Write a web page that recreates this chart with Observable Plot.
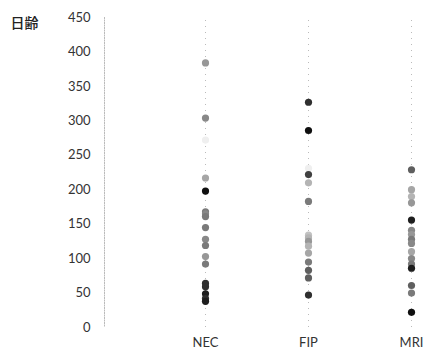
<!DOCTYPE html>
<html><head><meta charset="utf-8">
<script src="https://cdn.jsdelivr.net/npm/d3@7"></script>
<script src="https://cdn.jsdelivr.net/npm/@observablehq/plot@0.6"></script>
<style>body{margin:0;background:#fff;} svg{display:block;}</style>
</head><body><div id="chart"></div>
<script>
const categories = ["NEC", "FIP", "MRI"];
const necValues = [384, 304, 272, 217, 198, 168, 165, 161, 145, 128, 119, 103, 92, 64, 59, 49, 42, 38];
const necTones  = [0.5, 0.55, 0.12, 0.45, 0.95, 0.6, 0.55, 0.6, 0.6, 0.55, 0.6, 0.5, 0.6, 0.85, 0.85, 0.9, 0.85, 0.9];
const fipValues = [327, 286, 231, 222, 210, 183, 134, 130, 125, 118, 108, 95, 83, 72, 47];
const fipTones  = [0.85, 0.95, 0.12, 0.8, 0.4, 0.6, 0.35, 0.4, 0.5, 0.4, 0.45, 0.6, 0.7, 0.7, 0.85];
const mriValues = [229, 200, 190, 181, 156, 141, 135, 128, 122, 110, 100, 92, 86, 61, 50, 22];
const mriTones  = [0.7, 0.45, 0.4, 0.5, 0.9, 0.55, 0.5, 0.6, 0.55, 0.45, 0.55, 0.6, 0.9, 0.7, 0.6, 0.95];
const yTicks = [0, 50, 100, 150, 200, 250, 300, 350, 400, 450];
const yLabel = "日齢";

const series = [necValues, fipValues, mriValues];
const tones = [necTones, fipTones, mriTones];
const data = [];
categories.forEach((c, i) => series[i].forEach((v, j) => data.push({cat: c, value: v, tone: tones[i][j]})));

const chart = Plot.plot({
  width: 431,
  height: 354,
  marginLeft: 104,
  marginRight: 20,
  marginTop: 17,
  marginBottom: 27,
  style: {fontFamily: "Lato, 'Noto Sans CJK JP', sans-serif", fontSize: "13px", color: "#333"},
  x: {type: "point", domain: categories, range: [205, 411], padding: 0, label: null},
  y: {domain: [0, 450], label: null},
  marks: [
    Plot.ruleX(categories, {x: d => d, y1: 0, y2: 450, stroke: "#bbb", strokeDasharray: "1,5"}),
    Plot.frame({anchor: "left", stroke: "#bbb", strokeDasharray: "1,1.5"}),
    Plot.axisY({ticks: yTicks, tickSize: 0, tickPadding: 14, fontSize: 13}),
    Plot.axisX({tickSize: 0, tickPadding: 10, fontSize: 13}),
    Plot.dot(data, {x: "cat", y: "value", r: 3.6, fill: d => d3.interpolateGreys(d.tone), stroke: "none"}),
    Plot.text([yLabel], {frameAnchor: "top-left", dx: -94, dy: 1, textAnchor: "start", fontSize: 14, fontWeight: 500, fill: "#222", fontFamily: "'Noto Sans CJK JP', sans-serif"})
  ]
});
document.getElementById("chart").appendChild(chart);
</script>
</body></html>
